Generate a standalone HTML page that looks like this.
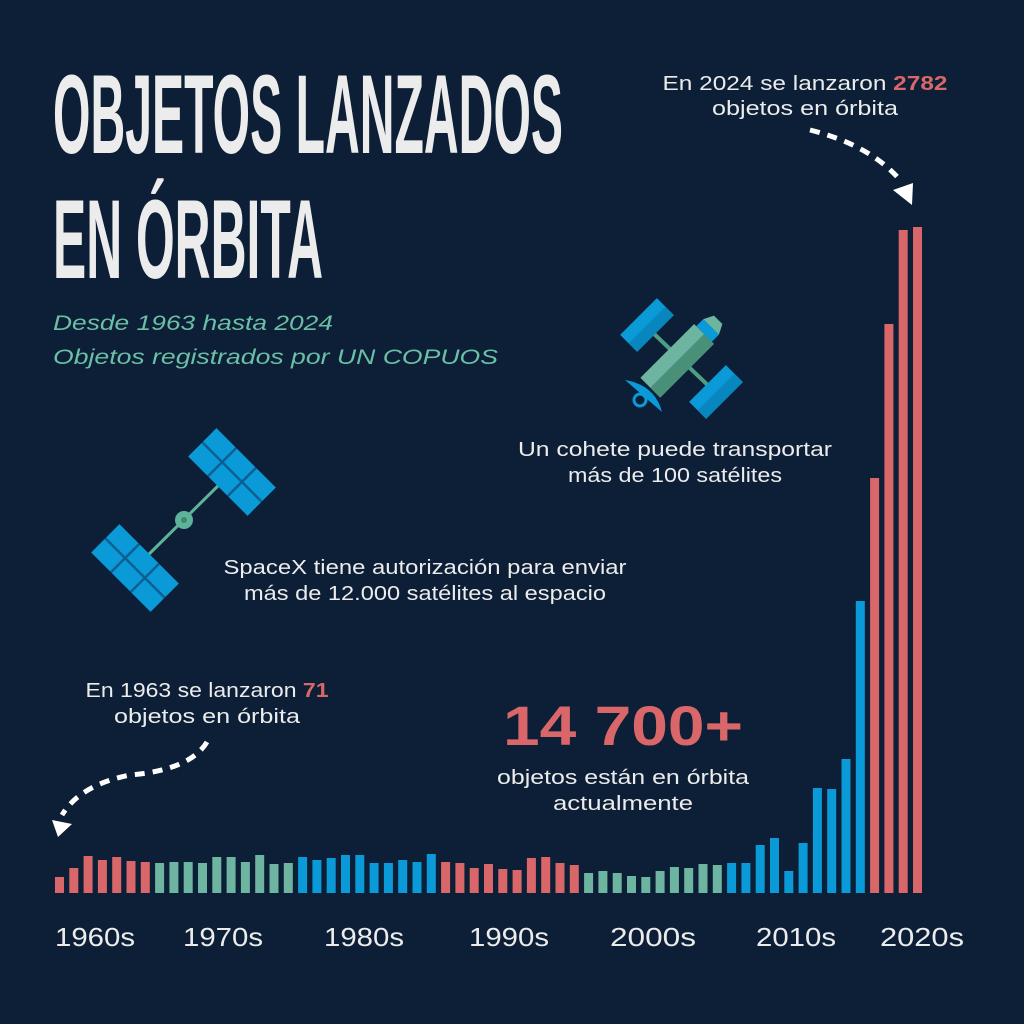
<!DOCTYPE html>
<html><head><meta charset="utf-8"><style>
html,body{margin:0;padding:0;background:#0c1f36;}
svg{display:block}
text{font-family:"Liberation Sans","DejaVu Sans",sans-serif;}
</style></head><body>
<svg width="1024" height="1024" viewBox="0 0 1024 1024" xmlns="http://www.w3.org/2000/svg">
<rect width="1024" height="1024" fill="#0c1f36"/>
<text x="53" y="153" font-size="112" font-weight="bold" fill="#ececec" textLength="510" lengthAdjust="spacingAndGlyphs">OBJETOS LANZADOS</text>
<text x="53" y="278" font-size="112" font-weight="bold" fill="#ececec" textLength="270" lengthAdjust="spacingAndGlyphs">EN ÓRBITA</text>
<text x="53" y="330" font-size="21" font-style="italic" fill="#6bbfa6" textLength="280" lengthAdjust="spacingAndGlyphs">Desde 1963 hasta 2024</text>
<text x="53" y="364" font-size="21" font-style="italic" fill="#6bbfa6" textLength="445" lengthAdjust="spacingAndGlyphs">Objetos registrados por UN COPUOS</text>

<g fill="#ececec" font-size="20" text-anchor="middle">
<text x="805" y="90" textLength="285" lengthAdjust="spacingAndGlyphs">En 2024 se lanzaron  <tspan font-weight="bold" fill="#d9676a">2782</tspan></text>
<text x="805" y="115" textLength="186" lengthAdjust="spacingAndGlyphs">objetos en órbita</text>
<text x="675" y="456" textLength="314" lengthAdjust="spacingAndGlyphs">Un cohete puede transportar</text>
<text x="675" y="482" textLength="214" lengthAdjust="spacingAndGlyphs">más de 100 satélites</text>
<text x="425" y="574" textLength="403" lengthAdjust="spacingAndGlyphs">SpaceX tiene autorización para enviar</text>
<text x="425" y="600" textLength="362" lengthAdjust="spacingAndGlyphs">más de 12.000 satélites al espacio</text>
<text x="207" y="697" textLength="243" lengthAdjust="spacingAndGlyphs">En 1963 se lanzaron <tspan font-weight="bold" fill="#d9676a">71</tspan></text>
<text x="207" y="723" textLength="186" lengthAdjust="spacingAndGlyphs">objetos en órbita</text>
<text x="623" y="784" textLength="252" lengthAdjust="spacingAndGlyphs">objetos están en órbita</text>
<text x="623" y="810" textLength="140" lengthAdjust="spacingAndGlyphs">actualmente</text>
</g>
<text x="503" y="745" font-size="56" font-weight="bold" fill="#d9676a" textLength="240" lengthAdjust="spacingAndGlyphs">14 700+</text>

<path d="M810,130 Q870,145 900,180" fill="none" stroke="#fff" stroke-width="5" stroke-dasharray="10,8"/>
<polygon points="893,190 913,183 912,205" fill="#fff"/>
<path d="M207,742 Q190,770 130,775 Q80,785 62,815" fill="none" stroke="#fff" stroke-width="5" stroke-dasharray="10,8"/>
<polygon points="52,820 72,824 58,837" fill="#fff"/>

<g>
<line x1="232" y1="472" x2="135" y2="568" stroke="#5fb39a" stroke-width="3"/>
<circle cx="184" cy="520" r="9" fill="#5fb39a"/>
<circle cx="184" cy="520" r="3" fill="#3a8a73"/>
<g transform="translate(232,472) rotate(-45)">
<rect x="-20" y="-42" width="40" height="84" fill="#0a9ad8"/>
<path d="M-20,-14 H20 M-20,14 H20 M0,-42 V42" stroke="#0d5f93" stroke-width="2.5"/>
</g>
<g transform="translate(135,568) rotate(-45)">
<rect x="-20" y="-42" width="40" height="84" fill="#0a9ad8"/>
<path d="M-20,-14 H20 M-20,14 H20 M0,-42 V42" stroke="#0d5f93" stroke-width="2.5"/>
</g>
</g>

<g>
<line x1="650" y1="330" x2="715" y2="392" stroke="#4f9e84" stroke-width="4"/>
<g transform="translate(647,325) rotate(45)"><rect x="-12" y="-26" width="24" height="52" fill="#0a9ad8"/><rect x="0" y="-26" width="12" height="52" fill="#0787bd"/></g>
<g transform="translate(716,392) rotate(45)"><rect x="-12" y="-26" width="24" height="52" fill="#0a9ad8"/><rect x="0" y="-26" width="12" height="52" fill="#0787bd"/></g>
<g transform="translate(680,358) rotate(-45)">
<rect x="-42" y="-14" width="76" height="28" fill="#6db5a0"/>
<rect x="-42" y="0" width="76" height="14" fill="#4a8f78"/>
<rect x="34" y="-11" width="10" height="22" fill="#0a9ad8"/>
<polygon points="44,-11 54,-6 54,6 44,11" fill="#6db5a0"/>
</g>
<path d="M625,380 Q655,385 662,412 Z" fill="#0a9ad8"/>
<circle cx="640" cy="400" r="6" fill="none" stroke="#0a9ad8" stroke-width="3"/>
</g>

<g id="bars"></g>

<g fill="#ececec" font-size="26" text-anchor="middle">
<text x="95" y="946" textLength="80" lengthAdjust="spacingAndGlyphs">1960s</text>
<text x="223" y="946" textLength="80" lengthAdjust="spacingAndGlyphs">1970s</text>
<text x="364" y="946" textLength="80" lengthAdjust="spacingAndGlyphs">1980s</text>
<text x="509" y="946" textLength="80" lengthAdjust="spacingAndGlyphs">1990s</text>
<text x="653" y="946" textLength="86" lengthAdjust="spacingAndGlyphs">2000s</text>
<text x="796" y="946" textLength="80" lengthAdjust="spacingAndGlyphs">2010s</text>
<text x="922" y="946" textLength="84" lengthAdjust="spacingAndGlyphs">2020s</text>
</g>
</svg>
<script>
var tops=[877,868,856,860,857,861,862,
863,862,862,863,857,857,862,855,864,863,
857,860,858,855,855,863,863,860,862,854,
862,863,868,864,869,870,858,857,863,865,
873,871,873,876,877,871,867,868,864,865,
863,863,845,838,871,843,788,789,759,601,
478,324,230,227];
var cols=[];
function add(c,n){for(var i=0;i<n;i++)cols.push(c);}
var R="#d9676a",G="#6db5a0",B="#0a9ad8";
add(R,7);add(G,10);add(B,10);add(R,10);add(G,10);add(B,10);add(R,4);
var g=document.getElementById("bars"),s="";
for(var i=0;i<tops.length;i++){
var x=55+i*14.3;
s+='<rect x="'+x.toFixed(1)+'" y="'+tops[i]+'" width="9" height="'+(893-tops[i])+'" fill="'+cols[i]+'"/>';
}
g.innerHTML=s;
</script>
</body></html>
